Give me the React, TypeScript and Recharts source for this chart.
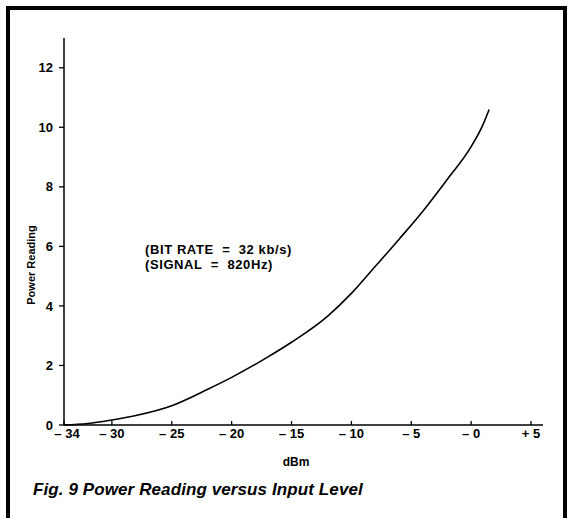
import { Line, LineChart, XAxis, YAxis } from "recharts";

const inputDbm = [-34, -32, -30, -28, -25, -22, -20, -17, -15, -12, -10, -8, -6, -4, -2, 0, 1, 1.5];
const powerReading = [0, 0.05, 0.17, 0.32, 0.65, 1.2, 1.6, 2.28, 2.78, 3.65, 4.42, 5.33, 6.25, 7.2, 8.25, 9.35, 10.1, 10.6];
const xTicks = [-34, -30, -25, -20, -15, -10, -5, 0, 5];
const yTicks = [0, 2, 4, 6, 8, 10, 12];

const chartData = inputDbm.map((db, i) => ({ db, reading: powerReading[i] }));

const FONT = '"Liberation Sans", Arial, Helvetica, sans-serif';

function formatDbm(v: number) {
    if (v > 0) return "+ " + v;
    return "\u2013 " + Math.abs(v);
}

function XTick(props: any) {
    const { x, y, payload } = props;
    return (
        <g>
            <line x1={x} x2={x} y1={y} y2={y - 4} stroke="#000" strokeWidth={1.3} />
            <text
                x={x + (payload.value === -34 ? 3 : 0)}
                y={y + 13}
                textAnchor="middle"
                fontSize={13}
                fontWeight="bold"
                fontFamily={FONT}
                fill="#000"
            >
                {formatDbm(payload.value)}
            </text>
        </g>
    );
}

export default function App() {
    return (
        <div
            style={{
                position: "absolute",
                left: 0,
                top: 0,
                width: 568,
                height: 518,
                background: "#fff",
                overflow: "hidden",
                fontFamily: FONT,
            }}
        >
            <div
                style={{
                    position: "absolute",
                    left: 6,
                    top: 6,
                    width: 553,
                    height: 530,
                    borderTop: "4px solid #000",
                    borderLeft: "4px solid #000",
                    borderRight: "4px solid #000",
                }}
            />
            <LineChart
                width={568}
                height={518}
                data={chartData}
                margin={{ top: 38, right: 25, left: 8, bottom: 63 }}
            >
                <XAxis
                    dataKey="db"
                    type="number"
                    domain={[-34, 6]}
                    ticks={xTicks}
                    interval={0}
                    height={30}
                    tickSize={0}
                    tickMargin={0}
                    tickLine={false}
                    axisLine={{ stroke: "#000", strokeWidth: 1.5 }}
                    tick={<XTick />}
                />
                <YAxis
                    type="number"
                    domain={[0, 13]}
                    ticks={yTicks}
                    interval={0}
                    width={56}
                    tickSize={5}
                    tickMargin={6}
                    axisLine={{ stroke: "#000", strokeWidth: 1.5 }}
                    tickLine={{ stroke: "#000", strokeWidth: 1.3 }}
                    tick={{ fill: "#000", fontSize: 13, fontWeight: "bold", fontFamily: FONT }}
                />
                <Line
                    type="monotone"
                    dataKey="reading"
                    stroke="#000"
                    strokeWidth={1.6}
                    dot={false}
                    isAnimationActive={false}
                />
            </LineChart>
            <div
                style={{
                    position: "absolute",
                    left: 31,
                    top: 265,
                    transform: "translate(-50%, -50%) rotate(-90deg)",
                    fontSize: 11,
                    fontWeight: "bold",
                    whiteSpace: "nowrap",
                }}
            >
                Power Reading
            </div>
            <div
                style={{
                    position: "absolute",
                    left: 296,
                    top: 455,
                    transform: "translateX(-50%)",
                    fontSize: 12,
                    fontWeight: "bold",
                }}
            >
                dBm
            </div>
            <div
                style={{
                    position: "absolute",
                    left: 145,
                    top: 242,
                    fontSize: 13,
                    fontWeight: "bold",
                    letterSpacing: 0.6,
                    lineHeight: "15px",
                    whiteSpace: "pre",
                }}
            >
                {"(BIT RATE  =  32 kb/s)\n(SIGNAL  =  820Hz)"}
            </div>
            <div
                style={{
                    position: "absolute",
                    left: 33,
                    top: 480,
                    fontSize: 17,
                    fontWeight: "bold",
                    fontStyle: "italic",
                    letterSpacing: 0.1,
                    whiteSpace: "nowrap",
                }}
            >
                Fig. 9 Power Reading versus Input Level
            </div>
        </div>
    );
}
